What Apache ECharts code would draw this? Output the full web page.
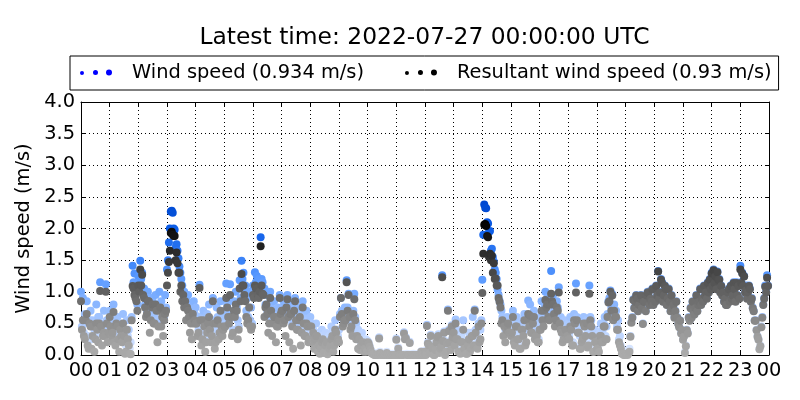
<!DOCTYPE html>
<html>
<head>
<meta charset="utf-8">
<script src="https://cdn.jsdelivr.net/npm/echarts@6/dist/echarts.min.js"></script>
<style>html,body{margin:0;padding:0;background:#fff}#c{width:800px;height:400px}</style>
</head>
<body>
<div id="c"></div>
<script>
// ---- data (2-minute samples, 30 per hour, 2022-07-26 00:00 .. 23:58 UTC) ----
const titleText = 'Latest time: 2022-07-27 00:00:00 UTC';
const windName = 'Wind speed (0.934 m/s)';
const resultantName = 'Resultant wind speed (0.93 m/s)';
const hourLabels = ['00','01','02','03','04','05','06','07','08','09','10','11','12',
                    '13','14','15','16','17','18','19','20','21','22','23','00'];
const samplesPerHour = 30;

const windSpeed = [
  1.0,0.45, 0.9,0.35, 0.65,0.6, 0.85,0.3, 0.5,0.55, 0.7,0.25, 0.55,0.5, 0.4,0.3, 0.8,0.45, 0.6,0.6, 1.15,0.5, 0.45,0.35, 0.7,0.4, 1.12,0.55, 0.5,0.45,
  0.7,0.5, 0.55,0.4, 0.8,0.35, 0.45,0.55, 0.6,0.3, 0.35,0.45, 0.5,0.25, 0.65,0.4, 0.3,0.15, 0.55,0.3, 0.4,0.1, 0.2,0.6, 1.41,1.15, 1.29,1.1, 1.0,0.8,
  1.25,1.15, 1.49,1.2, 1.3,1.0, 1.05,0.8, 0.95,0.7, 1.0,0.9, 0.85,0.65, 0.9,0.85, 0.75,0.6, 0.95,0.75, 0.8,0.55, 1.0,0.8, 0.85,0.7, 0.7,0.6, 0.95,0.75,
  1.35,1.5, 1.78,2.0, 2.27,2.28, 2.25,2.0, 1.98,1.7, 1.75,1.65, 1.53,1.4, 1.3,1.2, 1.1,1.0, 1.0,0.9, 0.9,0.85, 0.95,0.7, 0.8,0.6, 0.7,0.75, 0.85,0.65,
  0.75,0.55, 0.6,0.4, 1.11,0.6, 0.55,0.35, 0.7,0.5, 0.45,0.3, 0.65,0.6, 0.8,0.45, 0.5,0.35, 0.9,0.55, 0.4,0.3, 0.75,0.6, 0.55,0.4, 0.85,0.5, 0.6,0.45,
  0.7,0.5, 1.13,0.8, 0.9,0.55, 1.12,0.7, 0.6,0.4, 0.85,0.65, 1.0,0.75, 0.55,0.45, 1.18,0.9, 1.49,1.2, 1.3,1.0, 1.1,0.7, 0.9,0.6, 1.0,0.55, 0.75,0.5,
  1.1,1.0, 1.31,1.15, 1.25,1.0, 1.2,1.1, 1.86,1.2, 1.15,1.0, 1.05,0.8, 0.95,0.7, 0.8,0.6, 1.0,0.75, 0.7,0.55, 0.85,0.65, 0.6,0.5, 0.75,0.6, 0.95,0.7,
  0.9,0.75, 0.85,0.6, 0.7,0.8, 0.95,0.65, 0.6,0.7, 0.8,0.5, 0.55,0.75, 0.9,0.6, 0.65,0.45, 0.75,0.65, 0.5,0.4, 0.85,0.55, 0.6,0.35, 0.7,0.5, 0.55,0.3,
  0.6,0.5, 0.45,0.4, 0.35,0.3, 0.5,0.35, 0.3,0.2, 0.25,0.15, 0.4,0.3, 0.2,0.1, 0.35,0.25, 0.15,0.1, 0.3,0.2, 0.45,0.35, 0.25,0.2, 0.55,0.4, 0.4,0.3,
  0.4,0.65, 0.9,0.7, 0.6,0.55, 0.75,0.6, 1.18,0.75, 0.97,0.65, 0.7,0.5, 0.6,0.7, 0.97,0.6, 0.5,0.35, 0.4,0.3, 0.3,0.2, 0.35,0.25, 0.2,0.15, 0.25,0.1,
  0.22,0.2, 0.15,0.1, 0.05,0.04, 0.03,0.02, 0.02,0.01, 0.03,0.02, 0.28,0.05, 0.02,0.01, 0.01,0.0, 0.02,0.01, 0.05,0.02, 0.01,0.0, 0.0,0.01, 0.02,0.0, 0.01,0.0,
  0.26,0.02, 0.12,0.01, 0.02,0.0, 0.0,0.01, 0.36,0.27, 0.28,0.02, 0.01,0.0, 0.21,0.01, 0.0,0.0, 0.02,0.0, 0.0,0.01, 0.01,0.0, 0.0,0.0, 0.06,0.02, 0.01,0.0,
  0.07,0.02, 0.48,0.2, 0.17,0.05, 0.32,0.15, 0.12,0.02, 0.02,0.1, 0.22,0.3, 0.33,0.05, 0.12,0.15, 1.26,0.25, 0.37,0.02, 0.07,0.2, 0.72,0.4, 0.22,0.1, 0.47,0.3,
  0.45,0.2, 0.56,0.3, 0.4,0.1, 0.2,0.05, 0.3,0.25, 0.55,0.15, 0.15,0.05, 0.1,0.2, 0.35,0.1, 0.25,0.35, 0.6,0.2, 0.72,0.4, 0.3,0.15, 0.5,0.25, 0.4,0.55,
  1.19,1.9, 2.38,2.33, 2.32,2.1, 2.08,1.95, 1.96,1.65, 1.68,1.55, 1.48,1.35, 1.3,1.2, 1.03,0.95, 0.86,0.8, 0.7,0.6, 0.55,0.5, 0.4,0.45, 0.6,0.55, 0.5,0.4,
  0.5,0.4, 0.7,0.25, 0.35,0.5, 0.6,0.3, 0.45,0.15, 0.3,0.45, 0.55,0.35, 0.65,0.2, 0.4,0.6, 0.86,0.5, 0.8,0.4, 0.6,0.55, 0.7,0.3, 0.5,0.35, 0.45,0.25,
  0.6,0.45, 0.85,0.6, 0.7,0.75, 1.0,0.8, 0.9,0.65, 0.8,0.85, 1.33,0.9, 0.95,0.7, 0.7,0.6, 0.85,0.75, 1.07,0.55, 0.6,0.4, 0.4,0.3, 0.55,0.45, 0.45,0.35,
  0.5,0.3, 0.6,0.45, 0.4,0.2, 0.65,0.55, 1.13,0.6, 0.55,0.4, 0.3,0.15, 0.45,0.3, 0.6,0.5, 0.5,0.55, 0.35,0.2, 1.1,0.6, 0.55,0.35, 0.25,0.1, 0.4,0.25,
  0.3,0.15, 0.2,0.35, 0.5,0.25, 0.4,0.5, 0.6,0.3, 0.45,0.65, 0.85,0.9, 1.02,0.75, 0.96,0.6, 0.8,0.65, 0.7,0.45, 0.55,0.25, 0.3,0.15, 0.1,0.05, 0.05,0.03,
  0.05,0.03, 0.02,0.05, 0.1,0.3, 0.52,0.6, 0.88,0.75, 0.85,0.95, 0.9,0.7, 0.8,0.9, 0.95,0.75, 0.5,0.85, 0.85,0.7, 0.95,1.0, 1.0,0.8, 0.9,0.85, 1.05,0.8,
  1.05,0.85, 1.1,0.95, 1.33,0.9, 1.0,1.2, 1.15,0.85, 0.95,1.1, 1.05,0.8, 0.9,1.05, 0.85,0.7, 0.95,0.75, 0.8,0.6, 0.7,0.85, 0.6,0.5, 0.45,0.55, 0.35,0.4,
  0.25,0.3, 0.05,0.15, 0.4,0.35, 0.6,0.55, 0.75,0.6, 0.85,0.7, 0.65,0.75, 0.95,0.7, 0.8,0.85, 1.05,0.8, 0.9,0.85, 1.1,0.95, 1.0,0.9, 1.15,1.0, 1.2,1.05,
  1.3,1.1, 1.35,1.15, 1.25,1.05, 1.32,1.2, 1.2,1.0, 1.1,0.95, 1.0,0.85, 0.9,0.8, 0.8,1.0, 1.05,0.85, 1.1,0.9, 0.95,1.15, 1.05,0.85, 1.15,0.95, 1.1,0.9,
  1.41,1.15, 1.3,1.1, 1.25,1.0, 1.1,0.9, 1.0,1.1, 1.05,0.85, 0.9,0.75, 0.7,0.55, 0.55,0.4, 0.3,0.25, 0.1,0.15, 0.45,0.6, 0.8,0.9, 1.1,1.0, 1.26,1.1
];

const resultant = [
  0.85,0.4, 0.55,0.3, 0.25,0.55, 0.65,0.15, 0.1,0.5, 0.45,0.1, 0.3,0.45, 0.05,0.25, 0.5,0.4, 0.2,0.5, 1.01,0.45, 0.15,0.3, 0.35,0.3, 1.0,0.5, 0.2,0.35,
  0.6,0.45, 0.3,0.35, 0.68,0.2, 0.15,0.5, 0.45,0.25, 0.05,0.4, 0.3,0.2, 0.5,0.3, 0.02,0.05, 0.4,0.25, 0.15,0.02, 0.01,0.55, 1.09,1.05, 0.95,0.9, 0.85,0.7,
  1.1,1.0, 1.35,1.1, 1.27,0.95, 0.9,0.75, 0.6,0.65, 0.85,0.85, 0.35,0.55, 0.75,0.8, 0.5,0.5, 0.8,0.7, 0.2,0.45, 0.7,0.75, 0.45,0.6, 0.3,0.55, 0.65,0.7,
  1.1,1.3, 1.47,1.65, 1.93,1.95, 1.9,1.88, 1.88,1.5, 1.62,1.45, 1.3,1.3, 1.0,1.1, 0.85,0.95, 0.75,0.85, 0.55,0.75, 0.7,0.6, 0.35,0.5, 0.25,0.65, 0.5,0.55,
  0.5,0.5, 0.3,0.35, 1.06,0.55, 0.15,0.25, 0.55,0.45, 0.05,0.2, 0.35,0.5, 0.6,0.4, 0.2,0.3, 0.85,0.5, 0.1,0.2, 0.5,0.55, 0.25,0.35, 0.7,0.45, 0.3,0.4,
  0.45,0.45, 0.9,0.75, 0.6,0.5, 0.95,0.6, 0.3,0.35, 0.7,0.6, 0.8,0.7, 0.25,0.4, 1.05,0.85, 1.28,1.1, 1.1,0.95, 0.85,0.6, 0.5,0.55, 0.75,0.45, 0.4,0.45,
  0.95,0.9, 1.1,1.05, 1.05,0.95, 0.9,1.0, 1.72,1.1, 0.97,0.95, 0.6,0.75, 0.8,0.65, 0.35,0.5, 0.9,0.7, 0.3,0.5, 0.6,0.6, 0.2,0.45, 0.45,0.55, 0.9,0.65,
  0.7,0.7, 0.5,0.55, 0.3,0.75, 0.88,0.6, 0.2,0.65, 0.65,0.45, 0.1,0.7, 0.85,0.55, 0.4,0.4, 0.55,0.6, 0.15,0.35, 0.75,0.5, 0.3,0.3, 0.5,0.45, 0.2,0.25,
  0.45,0.45, 0.2,0.35, 0.1,0.25, 0.3,0.3, 0.05,0.15, 0.02,0.1, 0.2,0.25, 0.03,0.05, 0.15,0.2, 0.01,0.05, 0.1,0.15, 0.25,0.3, 0.05,0.15, 0.4,0.35, 0.2,0.25,
  0.2,0.6, 0.9,0.65, 0.45,0.5, 0.55,0.55, 1.15,0.7, 0.95,0.6, 0.4,0.45, 0.3,0.65, 0.88,0.55, 0.25,0.3, 0.1,0.25, 0.08,0.15, 0.15,0.2, 0.05,0.1, 0.1,0.05,
  0.2,0.18, 0.13,0.08, 0.03,0.02, 0.01,0.0, 0.0,0.0, 0.01,0.0, 0.26,0.03, 0.0,0.0, 0.0,0.0, 0.0,0.0, 0.03,0.0, 0.0,0.0, 0.0,0.0, 0.0,0.0, 0.0,0.0,
  0.24,0.0, 0.1,0.0, 0.0,0.0, 0.0,0.0, 0.34,0.25, 0.26,0.0, 0.0,0.0, 0.19,0.0, 0.0,0.0, 0.0,0.0, 0.0,0.0, 0.0,0.0, 0.0,0.0, 0.05,0.0, 0.0,0.0,
  0.05,0.0, 0.46,0.18, 0.15,0.03, 0.3,0.13, 0.1,0.0, 0.0,0.08, 0.2,0.28, 0.3,0.03, 0.1,0.13, 1.23,0.22, 0.35,0.0, 0.05,0.18, 0.7,0.38, 0.2,0.08, 0.45,0.28,
  0.35,0.15, 0.5,0.25, 0.25,0.05, 0.05,0.02, 0.2,0.2, 0.4,0.1, 0.1,0.02, 0.02,0.15, 0.25,0.05, 0.1,0.3, 0.3,0.15, 0.7,0.35, 0.15,0.1, 0.45,0.2, 0.25,0.5,
  0.98,1.6, 2.06,2.07, 2.04,1.88, 1.86,1.55, 1.6,1.5, 1.57,1.3, 1.45,1.2, 1.21,1.1, 1.1,0.9, 0.84,0.75, 0.5,0.55, 0.3,0.45, 0.2,0.4, 0.45,0.5, 0.35,0.35,
  0.3,0.35, 0.6,0.2, 0.15,0.45, 0.45,0.25, 0.25,0.1, 0.1,0.4, 0.4,0.3, 0.55,0.15, 0.2,0.55, 0.65,0.45, 0.62,0.35, 0.35,0.5, 0.6,0.25, 0.3,0.3, 0.2,0.2,
  0.4,0.4, 0.7,0.55, 0.45,0.7, 0.87,0.75, 0.8,0.6, 0.55,0.8, 0.97,0.85, 0.8,0.65, 0.45,0.55, 0.75,0.7, 0.99,0.5, 0.4,0.35, 0.2,0.25, 0.35,0.4, 0.25,0.3,
  0.25,0.25, 0.45,0.4, 0.15,0.15, 0.55,0.5, 0.99,0.55, 0.35,0.35, 0.1,0.1, 0.2,0.25, 0.5,0.45, 0.3,0.5, 0.12,0.15, 0.97,0.55, 0.45,0.3, 0.05,0.05, 0.2,0.2,
  0.1,0.1, 0.05,0.3, 0.3,0.2, 0.2,0.45, 0.45,0.25, 0.25,0.6, 0.83,0.85, 1.0,0.7, 0.94,0.55, 0.7,0.6, 0.6,0.4, 0.4,0.2, 0.15,0.1, 0.02,0.02, 0.0,0.0,
  0.02,0.01, 0.0,0.03, 0.05,0.29, 0.51,0.59, 0.87,0.74, 0.84,0.94, 0.89,0.69, 0.79,0.89, 0.94,0.74, 0.49,0.84, 0.84,0.69, 0.94,0.99, 0.99,0.79, 0.89,0.84, 1.04,0.79,
  1.04,0.84, 1.09,0.94, 1.32,0.89, 0.99,1.19, 1.14,0.84, 0.94,1.09, 1.04,0.79, 0.89,1.04, 0.84,0.69, 0.94,0.74, 0.79,0.59, 0.69,0.84, 0.59,0.49, 0.44,0.54, 0.34,0.39,
  0.24,0.29, 0.03,0.14, 0.39,0.34, 0.59,0.54, 0.74,0.59, 0.84,0.69, 0.64,0.74, 0.94,0.69, 0.79,0.84, 1.04,0.79, 0.89,0.84, 1.09,0.94, 0.99,0.89, 1.14,0.99, 1.19,1.04,
  1.29,1.09, 1.34,1.14, 1.24,1.04, 1.31,1.19, 1.19,0.99, 1.09,0.94, 0.99,0.84, 0.89,0.79, 0.79,0.99, 1.04,0.84, 1.09,0.89, 0.94,1.14, 1.04,0.84, 1.14,0.94, 1.09,0.89,
  1.35,1.14, 1.29,1.09, 1.24,0.99, 1.02,0.89, 0.99,1.09, 1.04,0.84, 0.89,0.74, 0.69,0.54, 0.54,0.39, 0.29,0.24, 0.09,0.14, 0.44,0.59, 0.79,0.89, 1.08,0.99, 1.22,1.09
];

const yTicks = { min: 0, max: 4, step: 0.5 };

// ---- chart ----
const font = 'DejaVu Sans';
const chart = echarts.init(document.getElementById('c'), null, { renderer: 'canvas' });
const toPoints = arr => arr.map((v, i) => [i / samplesPerHour, v]);
const dotsIcon = 'path://M0,3.5a2,2 0 1,0 4,0a2,2 0 1,0 -4,0M13,3a2.5,2.5 0 1,0 5,0a2.5,2.5 0 1,0 -5,0M26,3a3,3 0 1,0 6,0a3,3 0 1,0 -6,0';

const xBase = {
  type: 'value', min: 0, max: 24, interval: 1,
  axisLine: { show: true, onZero: false, lineStyle: { color: '#000', width: 1 } },
  axisTick: { show: true, inside: true, length: 4, lineStyle: { color: '#000' } }
};
const yBase = {
  type: 'value', min: yTicks.min, max: yTicks.max, interval: yTicks.step,
  axisLine: { show: true, onZero: false, lineStyle: { color: '#000', width: 1 } },
  axisTick: { show: true, inside: true, length: 4, lineStyle: { color: '#000' } }
};

chart.setOption({
  animation: false,
  backgroundColor: '#fff',
  title: {
    text: titleText, left: 419.5, top: 21, textAlign: 'center',
    textStyle: { fontFamily: font, fontSize: 23.4, fontWeight: 'normal', color: '#000' }
  },
  legend: {
    left: 70, top: 56,
    padding: [6, 7, 7, 10],
    itemGap: 41, itemWidth: 32, itemHeight: 6,
    borderColor: '#000', borderWidth: 1, borderRadius: 0,
    textStyle: { fontFamily: font, fontSize: 19.4, color: '#000', padding: [0, 0, 0, 15], lineHeight: 21 },
    data: [
      { name: windName, icon: dotsIcon, itemStyle: { color: '#0000ff' } },
      { name: resultantName, icon: dotsIcon, itemStyle: { color: '#000000' } }
    ]
  },
  grid: { left: 81, right: 31, top: 102, bottom: 45, containLabel: false },
  xAxis: [
    Object.assign({}, xBase, {
      position: 'bottom',
      axisLabel: { show: true, margin: 6, fontFamily: font, fontSize: 19.4, color: '#000',
                   formatter: v => hourLabels[Math.round(v)] },
      splitLine: { show: true, lineStyle: { color: '#000', width: 1, type: [1, 3] } }
    }),
    Object.assign({}, xBase, {
      position: 'top', axisLabel: { show: false }, splitLine: { show: false }
    })
  ],
  yAxis: [
    Object.assign({}, yBase, {
      position: 'left',
      name: 'Wind speed (m/s)', nameLocation: 'middle', nameGap: 37,
      nameTextStyle: { fontFamily: font, fontSize: 19.4, color: '#000' },
      axisLabel: { show: true, margin: 6, fontFamily: font, fontSize: 19.4, color: '#000',
                   formatter: v => v.toFixed(1) },
      splitLine: { show: true, lineStyle: { color: '#000', width: 1, type: [1, 3] } }
    }),
    Object.assign({}, yBase, {
      position: 'right', axisLabel: { show: false }, splitLine: { show: false }
    })
  ],
  visualMap: [
    {
      type: 'continuous', show: false, seriesIndex: 0, dimension: 1, min: 0, max: 2.4,
      inRange: { color: ['#dfeaff', '#b6d0ff', '#8ab6ff', '#5c9bff', '#2f7af5', '#0b5ce6', '#0048d0'] }
    },
    {
      type: 'continuous', show: false, seriesIndex: 1, dimension: 1, min: 0, max: 2.1,
      inRange: { color: ['#ababab', '#9a9a9a', '#7b7b7b', '#5d5d5d', '#3f3f3f', '#1f1f1f', '#000000'] }
    }
  ],
  series: [
    {
      name: windName, type: 'scatter', xAxisIndex: 0, yAxisIndex: 0,
      symbol: 'circle', symbolSize: 8, clip: true,
      itemStyle: { color: '#0000ff', opacity: 1 },
      data: toPoints(windSpeed)
    },
    {
      name: resultantName, type: 'scatter', xAxisIndex: 0, yAxisIndex: 0,
      symbol: 'circle', symbolSize: 8, clip: true,
      itemStyle: { color: '#000000', opacity: 1 },
      data: toPoints(resultant)
    }
  ]
});
</script>
</body>
</html>
